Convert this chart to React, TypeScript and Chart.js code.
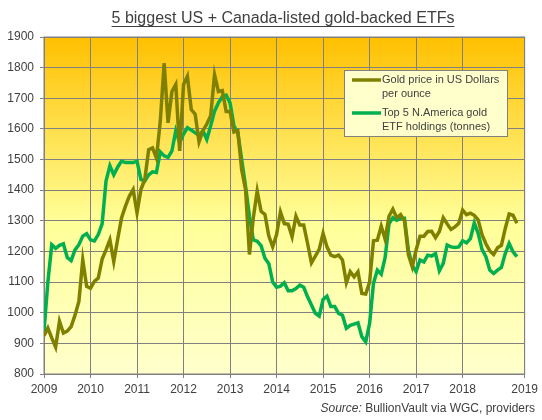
import { useEffect, useRef } from 'react';
import { Chart, registerables } from 'chart.js';

Chart.register(...registerables);

// monthly points, Jan 2009 .. Mar 2019 (index 0 = Jan 2009)
const yearLabels = ['2009', '2010', '2011', '2012', '2013', '2014', '2015', '2016', '2017', '2018', '2019'];

const goldPrice = [
  925, 950, 918, 888, 972, 934, 940, 955, 992, 1037, 1173, 1086,
  1080, 1102, 1113, 1175, 1205, 1238, 1167, 1240, 1309, 1347, 1380, 1402,
  1326, 1402, 1435, 1532, 1538, 1505, 1625, 1815, 1620, 1722, 1745, 1528,
  1745, 1772, 1663, 1648, 1558, 1594, 1616, 1643, 1777, 1722, 1725, 1657,
  1657, 1590, 1594, 1467, 1402, 1190, 1310, 1397, 1331, 1321, 1250, 1215,
  1255, 1329, 1291, 1289, 1248, 1315, 1286, 1286, 1226, 1163, 1185, 1207,
  1259, 1215, 1188, 1183, 1188, 1172, 1098, 1134, 1117, 1134, 1063, 1061,
  1100, 1235, 1237, 1283, 1240, 1315, 1338, 1310, 1320, 1300, 1190, 1150,
  1205, 1250, 1250, 1265, 1266, 1245, 1265, 1310, 1290, 1272, 1280, 1292,
  1335, 1320, 1325, 1318, 1303, 1255, 1225, 1202, 1190, 1212, 1220, 1275,
  1322, 1318, 1292,
];

const etfHoldings = [
  940, 1100, 1222, 1210, 1220, 1225, 1180, 1170, 1205, 1222, 1250, 1258,
  1238, 1234, 1255, 1290, 1430, 1480, 1450, 1475, 1495, 1490, 1490, 1490,
  1495, 1435, 1430, 1450, 1460, 1458, 1525, 1512, 1507, 1528, 1594, 1555,
  1583, 1604, 1596, 1587, 1579, 1594, 1566, 1610, 1658, 1685, 1705, 1710,
  1685, 1610, 1587, 1500, 1413, 1315, 1238, 1233, 1219, 1178, 1160, 1100,
  1083, 1087, 1098, 1072, 1072, 1079, 1090, 1083, 1052, 1025, 998, 989,
  1043, 1054, 1020, 1020, 998, 992, 949, 959, 963, 967, 922, 905,
  965, 1096, 1139, 1126, 1180, 1290, 1310, 1302, 1308, 1308, 1204, 1155,
  1134, 1172, 1166, 1188, 1185, 1193, 1137, 1161, 1221, 1215, 1213, 1215,
  1235, 1228, 1242, 1293, 1259, 1207, 1183, 1139, 1128, 1139, 1148, 1193,
  1226, 1199, 1183,
];

const seriesNames = [
  ['Gold price in US Dollars', 'per ounce'],
  ['Top 5 N.America gold', 'ETF holdings (tonnes)'],
];
const seriesColors = ['#808000', '#00b050'];

const FONT = "'Liberation Sans', Arial, sans-serif";
const TEXT = '#404040';
const GRID = '#808080';

const decorPlugin = {
  id: 'decor',
  beforeDraw(chart: any) {
    const { ctx, chartArea: a } = chart;
    ctx.save();
    ctx.fillStyle = '#ffffff';
    ctx.fillRect(0, 0, chart.width, chart.height);
    const g = ctx.createLinearGradient(0, a.top, 0, a.bottom);
    g.addColorStop(0, '#ffc000');
    g.addColorStop(0.55, '#ffff99');
    g.addColorStop(1, '#ffffcc');
    ctx.fillStyle = g;
    ctx.fillRect(a.left, a.top, a.right - a.left, a.bottom - a.top);
    ctx.restore();
  },
  beforeDatasetsDraw(chart: any) {
    const { ctx, chartArea: a } = chart;
    ctx.save();
    ctx.strokeStyle = GRID;
    ctx.lineWidth = 1;
    ctx.strokeRect(a.left, a.top, a.right - a.left, a.bottom - a.top);
    ctx.restore();
  },
  afterDraw(chart: any) {
    const { ctx } = chart;
    ctx.save();
    // title
    const title = '5 biggest US + Canada-listed gold-backed ETFs';
    ctx.font = `16px ${FONT}`;
    ctx.fillStyle = TEXT;
    ctx.textAlign = 'center';
    ctx.textBaseline = 'alphabetic';
    ctx.fillText(title, 283, 23);
    const tw = ctx.measureText(title).width;
    ctx.strokeStyle = TEXT;
    ctx.lineWidth = 1;
    ctx.beginPath();
    ctx.moveTo(283 - tw / 2, 26.5);
    ctx.lineTo(283 + tw / 2, 26.5);
    ctx.stroke();

    // legend
    ctx.fillStyle = '#ffffcc';
    ctx.fillRect(344.5, 70.5, 163, 66);
    ctx.strokeStyle = GRID;
    ctx.strokeRect(344.5, 70.5, 163, 66);
    ctx.font = `11px ${FONT}`;
    ctx.textAlign = 'left';
    ctx.textBaseline = 'middle';
    const rows = [80, 113];
    seriesNames.forEach((lines, i) => {
      const y = rows[i];
      ctx.strokeStyle = seriesColors[i];
      ctx.lineWidth = 3.5;
      ctx.beginPath();
      ctx.moveTo(352, y);
      ctx.lineTo(381, y);
      ctx.stroke();
      ctx.fillStyle = TEXT;
      lines.forEach((t, j) => ctx.fillText(t, 382, y + j * 14));
    });

    // source
    ctx.font = `12px ${FONT}`;
    ctx.textAlign = 'right';
    ctx.textBaseline = 'alphabetic';
    const rest = ' BullionVault via WGC, providers';
    ctx.fillText(rest, 535, 412);
    const rw = ctx.measureText(rest).width;
    ctx.font = `italic 12px ${FONT}`;
    ctx.fillText('Source:', 535 - rw, 412);
    ctx.restore();
  },
};

export default function App() {
  const chartRef = useRef<HTMLCanvasElement>(null);
  const chartInstance = useRef<Chart | null>(null);

  useEffect(() => {
    document.body.style.margin = '0';
    if (!chartRef.current) return;
    if (chartInstance.current) chartInstance.current.destroy();
    const ctx = chartRef.current.getContext('2d');
    if (!ctx) return;

    const toPoints = (arr: number[]) => arr.map((v, i) => ({ x: i, y: v }));

    chartInstance.current = new Chart(ctx, {
      type: 'line',
      data: {
        datasets: [
          {
            label: seriesNames[0].join(' '),
            data: toPoints(goldPrice),
            borderColor: seriesColors[0],
            borderWidth: 3.5,
            pointRadius: 0,
            tension: 0,
          },
          {
            label: seriesNames[1].join(' '),
            data: toPoints(etfHoldings),
            borderColor: seriesColors[1],
            borderWidth: 3.5,
            pointRadius: 0,
            tension: 0,
          },
        ],
      },
      options: {
        responsive: false,
        animation: false,
        devicePixelRatio: 1,
        layout: { padding: { top: 37, left: 0, right: 8, bottom: 0 } },
        plugins: {
          legend: { display: false },
          tooltip: { enabled: false },
        },
        scales: {
          x: {
            type: 'linear',
            min: 0,
            max: 124,
            afterFit: (s: any) => { s.height = 46; },
            grid: { color: GRID, tickLength: 4, drawTicks: true },
            border: { color: GRID },
            ticks: {
              stepSize: 12,
              autoSkip: false,
              maxRotation: 0,
              padding: 4,
              color: TEXT,
              font: { family: FONT, size: 12 },
              callback: (v: any) => yearLabels[Math.round(Number(v) / 12)] ?? '',
            },
          },
          y: {
            min: 800,
            max: 1900,
            afterFit: (s: any) => { s.width = 44; },
            grid: { color: GRID, tickLength: 4, drawTicks: true },
            border: { color: GRID },
            ticks: {
              stepSize: 100,
              padding: 6,
              color: TEXT,
              font: { family: FONT, size: 12 },
              callback: (v: any) => String(v),
            },
          },
        },
      },
      plugins: [decorPlugin],
    });

    return () => {
      if (chartInstance.current) {
        chartInstance.current.destroy();
        chartInstance.current = null;
      }
    };
  }, []);

  return (
    <div style={{ width: 542, height: 420 }}>
      <canvas ref={chartRef} width={542} height={420}></canvas>
    </div>
  );
}
